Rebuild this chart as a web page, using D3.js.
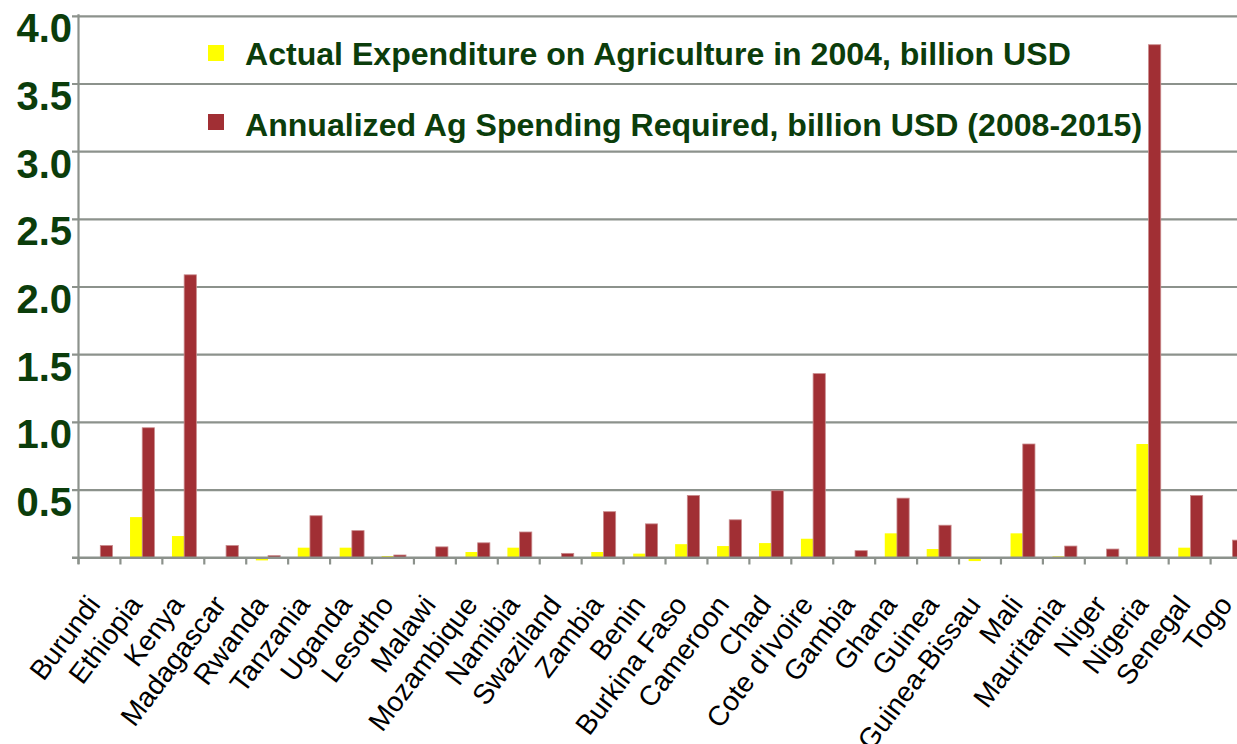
<!DOCTYPE html>
<html><head><meta charset="utf-8">
<script src="https://cdn.jsdelivr.net/npm/d3@7/dist/d3.min.js"></script>
<style>
html,body{margin:0;padding:0;background:#fff;overflow:hidden;}
svg{display:block;}
</style></head>
<body>
<svg id="chart" width="1237" height="744"></svg>
<script>
const categories = ["Burundi","Ethiopia","Kenya","Madagascar","Rwanda","Tanzania","Uganda","Lesotho","Malawi","Mozambique","Namibia","Swaziland","Zambia","Benin","Burkina Faso","Cameroon","Chad","Cote d'Ivoire","Gambia","Ghana","Guinea","Guinea-Bissau","Mali","Mauritania","Niger","Nigeria","Senegal","Togo"];
const actual2004 = [0, 0.30, 0.16, 0, -0.02, 0.074, 0.074, 0.012, 0, 0.042, 0.074, 0, 0.042, 0.03, 0.10, 0.086, 0.108, 0.14, 0, 0.18, 0.064, -0.025, 0.18, 0.01, 0, 0.84, 0.074, 0];
const required = [0.09, 0.96, 2.09, 0.09, 0.015, 0.31, 0.20, 0.02, 0.08, 0.11, 0.19, 0.032, 0.34, 0.25, 0.46, 0.28, 0.495, 1.36, 0.052, 0.44, 0.24, 0, 0.84, 0.086, 0.064, 3.79, 0.46, 0.13];
const yTicks = [0.5, 1.0, 1.5, 2.0, 2.5, 3.0, 3.5, 4.0];
const seriesNames = ["Actual Expenditure on Agriculture in 2004, billion USD", "Annualized Ag Spending Required, billion USD (2008-2015)"];
const seriesColors = ["#ffff00", "#a12f34"];

const svg = d3.select("#chart");
const left = 78.5, step = 41.93;
const x = d3.scaleBand().domain(categories).range([left, left + step * categories.length]).padding(0);
const y = d3.scaleLinear().domain([0, 4]).range([557.7, 16.3]);
const green = "#0b3d0b", grid = "#8c928c";

// gridlines
svg.append("g").selectAll("line").data(yTicks).join("line")
  .attr("x1", 72).attr("x2", 1237)
  .attr("y1", d => y(d)).attr("y2", d => y(d))
  .attr("stroke", grid).attr("stroke-width", 2.2);

// y labels
svg.append("g").selectAll("text").data(yTicks).join("text")
  .attr("x", 72).attr("y", d => y(d) + 26)
  .attr("text-anchor", "end")
  .attr("font-family", "Liberation Sans, Arial, sans-serif")
  .attr("font-weight", "bold").attr("font-size", 40)
  .attr("fill", green)
  .text(d => d.toFixed(1));

const bw = 12.2, off = 9.6;
const series = [actual2004, required];
series.forEach((vals, si) => {
  svg.append("g").selectAll("rect").data(categories.map((c, i) => ({c, v: vals[i]})).filter(d => d.v !== 0)).join("rect")
    .attr("x", d => x(d.c) + off + si * bw)
    .attr("width", bw)
    .attr("y", d => Math.min(y(d.v), y(0)))
    .attr("height", d => Math.abs(y(d.v) - y(0)))
    .attr("fill", seriesColors[si])
    .attr("stroke", si === 1 ? "#c98a8c" : "none").attr("stroke-width", 0.8);
});

// y axis line
svg.append("line").attr("x1", x.range()[0]).attr("x2", x.range()[0])
  .attr("y1", y(4) - 2).attr("y2", 564).attr("stroke", grid).attr("stroke-width", 2.2);
// x axis line
svg.append("line").attr("x1", 72).attr("x2", 1237)
  .attr("y1", y(0)).attr("y2", y(0)).attr("stroke", grid).attr("stroke-width", 2.5);
// x ticks
svg.append("g").selectAll("line").data(categories).join("line")
  .attr("x1", d => x(d)).attr("x2", d => x(d))
  .attr("y1", y(0)).attr("y2", 564.5)
  .attr("stroke", grid).attr("stroke-width", 2.2);

// x labels
svg.append("g").selectAll("text").data(categories).join("text")
  .attr("transform", d => `translate(${x(d) + x.bandwidth() / 2 + 2},${605}) rotate(-53)`)
  .attr("text-anchor", "end")
  .attr("font-family", "Liberation Sans, Arial, sans-serif")
  .attr("font-size", 28).attr("fill", "#000")
  .text(d => d);

// legend
const legend = svg.append("g");
seriesNames.forEach((n, i) => {
  const cy = i === 0 ? 53 : 122;
  legend.append("rect").attr("x", 208).attr("y", cy - 8).attr("width", 16).attr("height", 16).attr("fill", seriesColors[i]);
  legend.append("text").attr("x", 245).attr("y", i === 0 ? 64.7 : 135.7)
    .attr("font-family", "Liberation Sans, Arial, sans-serif")
    .attr("font-weight", "bold").attr("font-size", 32.1)
    .attr("fill", green).text(n);
});
</script>
</body></html>
